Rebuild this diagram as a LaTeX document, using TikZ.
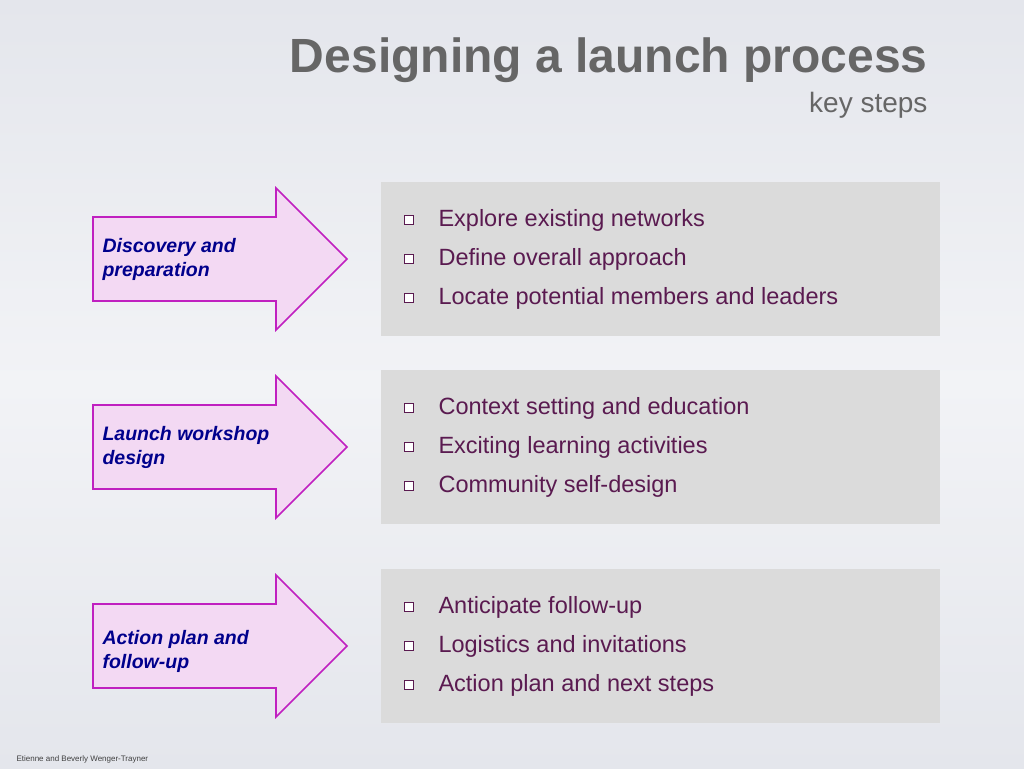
\documentclass[tikz,border=0pt]{standalone}
\usepackage{fontspec}
\setmainfont{Liberation Sans}
\definecolor{bgA}{HTML}{E4E6EC}
\definecolor{bgB}{HTML}{F2F3F6}
\definecolor{arrline}{HTML}{C020C0}
\definecolor{arrfill}{HTML}{F3D9F3}
\definecolor{itemc}{HTML}{5A1A50}
\begin{document}
\begin{tikzpicture}[x=1pt,y=-1pt,
  arr/.style={draw=arrline, line width=1.6pt, fill=arrfill, line join=miter},
  lab/.style={anchor=west, align=left, text=blue!55!black, font=\fontsize{19.5}{24}\selectfont\bfseries\itshape},
  panel/.style={fill=black!14, draw=none},
  item/.style={anchor=west, text=itemc, font=\fontsize{23.5}{26}\selectfont},
  chk/.style={draw=itemc, line width=0.9pt, minimum size=9pt, inner sep=0pt, fill=white}]
\shade[top color=bgA, bottom color=bgA, middle color=bgB] (0,0) rectangle (1024,768);
\useasboundingbox (0,0) rectangle (1024,768);
\node[anchor=base east, text=black!60, font=\fontsize{48}{54}\selectfont\bfseries] (title) at (931,72) {Designing a launch process};
\node[anchor=base east, text=black!60, font=\fontsize{28}{32}\selectfont] (sub) at (931,112) {key steps};
\foreach \cy/\a/\b/\c [count=\i] in {259/Explore existing networks/Define overall approach/Locate potential members and leaders,
  447/Context setting and education/Exciting learning activities/Community self-design,
  646/Anticipate follow-up/Logistics and invitations/Action plan and next steps}{
  \fill[panel] (381,\cy-77) rectangle (940,\cy+77);
  \draw[arr] (93,\cy-42) -- (276,\cy-42) -- (276,\cy-71) -- (347,\cy) -- (276,\cy+71) -- (276,\cy+42) -- (93,\cy+42) -- cycle;
  \node[chk] (c\i a) at (409,\cy-39) {};
  \node[chk] (c\i b) at (409,\cy) {};
  \node[chk] (c\i c) at (409,\cy+39) {};
  \node[item] (t\i a) at (435,\cy-39) {\a};
  \node[item] (t\i b) at (435,\cy) {\b};
  \node[item] (t\i c) at (435,\cy+39) {\c};
}
\node[lab] (l1) at (99,259) {Discovery and\\preparation};
\node[lab] (l2) at (99,447) {Launch workshop\\design};
\node[lab] (l3) at (99,651) {Action plan and\\follow-up};
\node[anchor=west, text=black!75, font=\fontsize{8}{9}\selectfont] (cred) at (13,759) {Etienne and Beverly Wenger-Trayner};
\end{tikzpicture}
\end{document}
